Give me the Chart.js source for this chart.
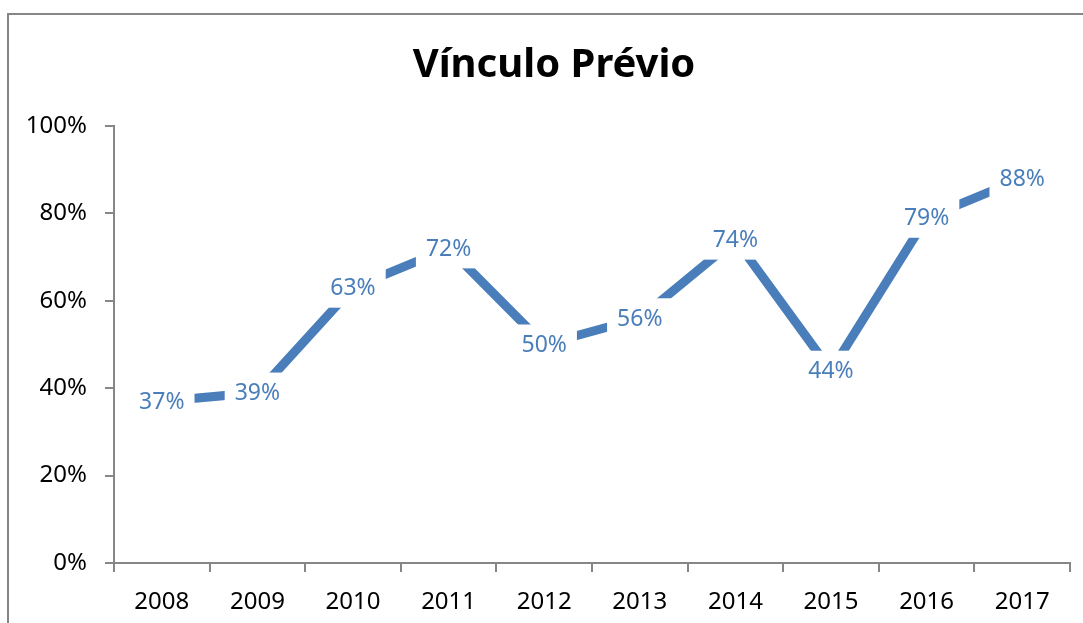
<!DOCTYPE html>
<html>
<head>
<meta charset="utf-8">
<script src="https://cdn.jsdelivr.net/npm/chart.js@4"></script>
<style>
  html, body { margin: 0; padding: 0; background: #fff; }
  #grafico { display: block; }
</style>
</head>
<body>
<canvas id="grafico" width="1083" height="623"></canvas>
<script>
const anos = ['2008', '2009', '2010', '2011', '2012', '2013', '2014', '2015', '2016', '2017'];
const vinculo = [37, 39, 63, 72, 50, 56, 74, 44, 79, 88];
const ticksY = [0, 20, 40, 60, 80, 100];
const titulo = 'Vínculo Prévio';

const azul = '#4A7EBB';
const cinza = '#868686';

// moldura + titulo + rotulos com fundo branco
const extras = {
    id: 'extras',
    beforeDraw(chart) {
        const c = chart.ctx;
        c.save();
        c.strokeStyle = cinza;
        c.lineWidth = 2;
        c.strokeRect(8, 14, 1200, 800);
        c.fillStyle = '#000';
        c.font = 'bold 40px "Noto Sans"';
        c.textAlign = 'center';
        c.textBaseline = 'middle';
        c.fillText(titulo, 554, 66);
        c.restore();
    },
    afterDatasetsDraw(chart) {
        const c = chart.ctx;
        const meta = chart.getDatasetMeta(0);
        c.save();
        c.font = '23px "Noto Sans"';
        c.textAlign = 'center';
        c.textBaseline = 'middle';
        meta.data.forEach((p, i) => {
            const txt = vinculo[i] + '%';
            const w = c.measureText(txt).width;
            c.fillStyle = '#fff';
            c.fillRect(p.x - w / 2 - 10, p.y - 20, w + 20, 40);
            c.fillStyle = azul;
            c.fillText(txt, p.x, p.y + 1);
        });
        c.restore();
    }
};

new Chart(document.getElementById('grafico'), {
    type: 'line',
    data: {
        labels: anos,
        datasets: [{
            label: titulo,
            data: vinculo,
            borderColor: azul,
            borderWidth: 9,
            pointRadius: 0,
            tension: 0,
            fill: false
        }]
    },
    options: {
        responsive: false,
        animation: false,
        layout: { padding: { top: 126, right: 13, bottom: 0, left: 0 } },
        plugins: {
            legend: { display: false },
            title: { display: false },
            tooltip: { enabled: false }
        },
        scales: {
            x: {
                offset: true,
                grid: { offset: true, drawOnChartArea: false, drawTicks: true, tickLength: 9, color: cinza, lineWidth: 2 },
                border: { color: cinza, width: 2 },
                ticks: { color: '#000', font: { family: 'Noto Sans', size: 24 }, padding: 16, maxRotation: 0 },
                afterFit(s) { s.height = 60; }
            },
            y: {
                min: 0,
                max: 100,
                afterBuildTicks(s) { s.ticks = ticksY.map(v => ({ value: v })); },
                grid: { drawOnChartArea: false, drawTicks: true, tickLength: 9, color: cinza, lineWidth: 2 },
                border: { color: cinza, width: 2 },
                ticks: { color: '#000', font: { family: 'Noto Sans', size: 24 }, padding: 18, callback: v => v + '%' },
                afterFit(s) { s.width = 114; }
            }
        }
    },
    plugins: [extras]
});
</script>
</body>
</html>
